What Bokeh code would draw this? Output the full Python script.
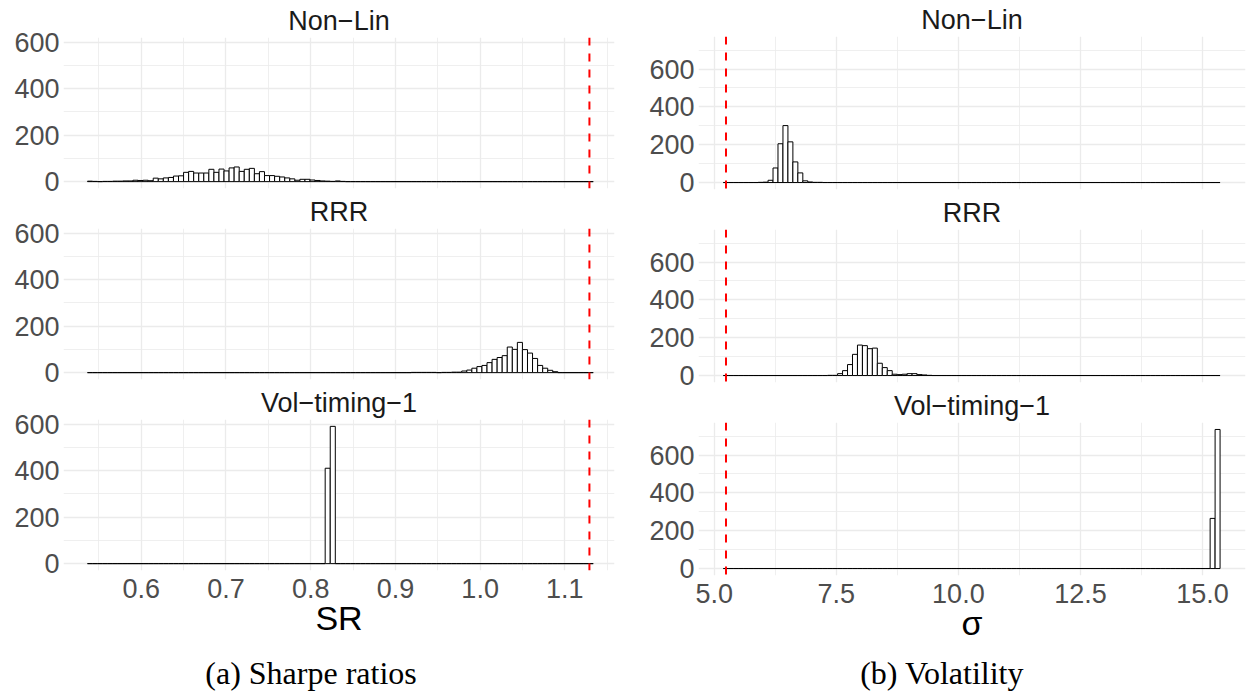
from bokeh.plotting import figure
from bokeh.models import Range1d, LinearAxis, Grid, FixedTicker, Span, Label, Title
from bokeh.layouts import row, column
from bokeh.embed import file_html
from bokeh.resources import INLINE

# ---------------- data ----------------
facets = ["Non\u2212Lin", "RRR", "Vol\u2212timing\u22121"]

# Sharpe ratio histograms (100 shared bins)
sr_bin_start = 0.5365
sr_bin_width = 0.00597
sr_counts_nonlin = [
    2, 1, 0, 1, 1, 2, 2, 3, 3, 6,
    5, 6, 4, 15, 12, 16, 18, 24, 25, 40,
    44, 37, 37, 37, 53, 40, 54, 46, 59, 63,
    44, 53, 57, 34, 43, 26, 26, 23, 20, 16,
    12, 6, 10, 10, 7, 5, 3, 2, 1, 3,
    1, 0, 0, 0, 0, 0, 0, 0, 0, 0,
    0, 0, 0, 0, 0, 0, 0, 0, 0, 0,
    0, 0, 0, 0, 0, 0, 0, 0, 0, 0,
    0, 0, 0, 0, 0, 0, 0, 0, 0, 0,
    0, 0, 0, 0, 0, 0, 0, 0, 0, 0,
]
sr_counts_rrr = [
    0, 0, 0, 0, 0, 0, 0, 0, 0, 0,
    0, 0, 0, 0, 0, 0, 0, 0, 0, 0,
    0, 0, 0, 0, 0, 0, 0, 0, 0, 0,
    0, 0, 0, 0, 0, 0, 0, 0, 0, 0,
    0, 0, 0, 0, 0, 0, 0, 0, 0, 0,
    0, 0, 0, 0, 0, 0, 0, 0, 0, 0,
    0, 0, 0, 0, 1, 1, 1, 1, 1, 0,
    1, 1, 2, 2, 7, 11, 19, 26, 31, 43,
    57, 65, 73, 110, 100, 130, 99, 84, 61, 31,
    19, 10, 4, 0, 0, 0, 0, 0, 0, 0,
]
sr_counts_vol = [
    0, 0, 0, 0, 0, 0, 0, 0, 0, 0,
    0, 0, 0, 0, 0, 0, 0, 0, 0, 0,
    0, 0, 0, 0, 0, 0, 0, 0, 0, 0,
    0, 0, 0, 0, 0, 0, 0, 0, 0, 0,
    0, 0, 0, 0, 0, 0, 0, 410, 590, 0,
    0, 0, 0, 0, 0, 0, 0, 0, 0, 0,
    0, 0, 0, 0, 0, 0, 0, 0, 0, 0,
    0, 0, 0, 0, 0, 0, 0, 0, 0, 0,
    0, 0, 0, 0, 0, 0, 0, 0, 0, 0,
    0, 0, 0, 0, 0, 0, 0, 0, 0, 0,
]
sr_reference = 1.129

# Volatility histograms (100 shared bins)
sig_bin_start = 5.186
sig_bin_width = 0.10174
sig_counts_nonlin = [
    0, 0, 0, 0, 0, 0, 0, 1, 2, 12,
    77, 205, 301, 215, 109, 51, 9, 3, 1, 1,
    0, 0, 0, 0, 0, 0, 0, 0, 0, 0,
    0, 0, 0, 0, 0, 0, 0, 0, 0, 0,
    0, 0, 0, 0, 0, 0, 0, 0, 0, 0,
    0, 0, 0, 0, 0, 0, 0, 0, 0, 0,
    0, 0, 0, 0, 0, 0, 0, 0, 0, 0,
    0, 0, 0, 0, 0, 0, 0, 0, 0, 0,
    0, 0, 0, 0, 0, 0, 0, 0, 0, 0,
    0, 0, 0, 0, 0, 0, 0, 0, 0, 0,
]
sig_counts_rrr = [
    0, 0, 0, 0, 0, 0, 0, 0, 0, 0,
    0, 0, 0, 0, 0, 0, 0, 0, 0, 0,
    0, 1, 1, 10, 26, 58, 112, 161, 158, 142,
    145, 65, 42, 26, 7, 5, 7, 10, 10, 5,
    3, 1, 0, 0, 0, 0, 0, 0, 0, 0,
    0, 0, 0, 0, 0, 0, 0, 0, 0, 0,
    0, 0, 0, 0, 0, 0, 0, 0, 0, 0,
    0, 0, 0, 0, 0, 0, 0, 0, 0, 0,
    0, 0, 0, 0, 0, 0, 0, 0, 0, 0,
    0, 0, 0, 0, 0, 0, 0, 0, 0, 0,
]
sig_counts_vol = [
    0, 0, 0, 0, 0, 0, 0, 0, 0, 0,
    0, 0, 0, 0, 0, 0, 0, 0, 0, 0,
    0, 0, 0, 0, 0, 0, 0, 0, 0, 0,
    0, 0, 0, 0, 0, 0, 0, 0, 0, 0,
    0, 0, 0, 0, 0, 0, 0, 0, 0, 0,
    0, 0, 0, 0, 0, 0, 0, 0, 0, 0,
    0, 0, 0, 0, 0, 0, 0, 0, 0, 0,
    0, 0, 0, 0, 0, 0, 0, 0, 0, 0,
    0, 0, 0, 0, 0, 0, 0, 0, 0, 0,
    0, 0, 0, 0, 0, 0, 0, 0, 265, 735,
]
sig_reference = 5.24

# axes
sr_ticks = [0.6, 0.7, 0.8, 0.9, 1.0, 1.1]
sr_tick_labels = ["0.6", "0.7", "0.8", "0.9", "1.0", "1.1"]
sr_minor = [0.55, 0.65, 0.75, 0.85, 0.95, 1.05, 1.15]
sig_ticks = [5.0, 7.5, 10.0, 12.5, 15.0]
sig_tick_labels = ["5.0", "7.5", "10.0", "12.5", "15.0"]
sig_minor = [6.25, 8.75, 11.25, 13.75]
count_ticks = [0, 200, 400, 600]
count_tick_labels = ["0", "200", "400", "600"]
sr_count_minor = [100, 300, 500]
sig_count_minor = [100, 300, 500, 700]

sr_panel_limits = (0.5082, 1.1586)
sr_count_limits = (-29.5, 619.5)
sig_panel_limits = (4.677, 15.881)
sig_count_limits = (-36.75, 771.75)

sr_xlabel = "SR"
sig_xlabel = "\u03c3"
captions = ["(a) Sharpe ratios", "(b) Volatility"]

# ---------------- style ----------------
FONT = "Liberation Sans"
GRID = "#EBEBEB"
AXIS_TXT = "#4D4D4D"
STRIP_TXT = "#1A1A1A"


def panel(width, height, b_top, b_bottom, b_left, b_right,
          limits, ylimits, start, bw, counts, ref, title,
          xticks, xminor, xlabels, yminor, xlabel, bottom):
    p = figure(width=width, height=height,
               x_range=Range1d(limits[0], limits[1]),
               y_range=Range1d(ylimits[0], ylimits[1]),
               x_axis_type=None, y_axis_type=None,
               toolbar_location=None, output_backend="svg",
               min_border_top=b_top, min_border_bottom=b_bottom,
               min_border_left=b_left, min_border_right=b_right)
    p.outline_line_color = None
    p.background_fill_color = "white"
    p.border_fill_color = "white"
    p.title = Title(text=title, align="center", vertical_align="top", standoff=0,
                    text_font=FONT, text_font_size="27px", text_font_style="normal",
                    text_color=STRIP_TXT)

    xg = Grid(dimension=0, ticker=FixedTicker(ticks=xticks, minor_ticks=xminor),
              grid_line_color=GRID, grid_line_width=1.3,
              minor_grid_line_color=GRID, minor_grid_line_width=0.8)
    yg = Grid(dimension=1, ticker=FixedTicker(ticks=count_ticks, minor_ticks=yminor),
              grid_line_color=GRID, grid_line_width=1.3,
              minor_grid_line_color=GRID, minor_grid_line_width=0.8)
    p.add_layout(xg)
    p.add_layout(yg)

    yaxis = LinearAxis(ticker=FixedTicker(ticks=count_ticks),
                       major_label_overrides={t: l for t, l in zip(count_ticks, count_tick_labels)},
                       major_label_text_font=FONT, major_label_text_font_size="27px",
                       major_label_text_color=AXIS_TXT, major_label_standoff=4,
                       major_tick_out=0, major_tick_in=0, minor_tick_out=0, minor_tick_in=0,
                       axis_line_color=None)
    p.add_layout(yaxis, "left")

    if bottom:
        xaxis = LinearAxis(ticker=FixedTicker(ticks=xticks),
                           major_label_overrides={t: l for t, l in zip(xticks, xlabels)},
                           major_label_text_font=FONT, major_label_text_font_size="27px",
                           major_label_text_color=AXIS_TXT, major_label_standoff=8,
                           major_tick_out=0, major_tick_in=0, minor_tick_out=0, minor_tick_in=0,
                           axis_line_color=None,
                           axis_label=xlabel, axis_label_text_font=FONT,
                           axis_label_text_font_size="34px", axis_label_text_font_style="normal",
                           axis_label_text_color="black", axis_label_standoff=-2)
        p.add_layout(xaxis, "below")

    lefts = [start + i * bw for i in range(len(counts))]
    rights = [start + (i + 1) * bw for i in range(len(counts))]
    p.quad(left=lefts, right=rights, bottom=[0] * len(counts), top=counts,
           fill_color="white", line_color="black", line_width=1)

    p.add_layout(Span(location=ref, dimension="height", line_color="#FF0000",
                      line_dash="8 8", line_width=2))
    return p


def caption(width, height, b_left, b_right, cx, cy, text):
    # x and y ranges expressed in canvas pixels (x from left, y from bottom)
    c = figure(width=width, height=height,
               x_range=Range1d(b_left, width - b_right), y_range=Range1d(0, height),
               x_axis_type=None, y_axis_type=None, toolbar_location=None,
               output_backend="svg", min_border_left=b_left, min_border_right=b_right,
               min_border_top=0, min_border_bottom=0)
    c.outline_line_color = None
    c.add_layout(Label(x=cx, y=cy, text=text, text_align="center", text_baseline="middle",
                       text_font="Liberation Serif", text_font_size="32px", text_color="black"))
    return c


# left column (Sharpe ratios): canvas 0..623
LW = 623
sr_sets = [sr_counts_nonlin, sr_counts_rrr, sr_counts_vol]
# (height, border_top, border_bottom)
sr_specs = [(196, 37, 8), (191, 32, 8), (258, 32, 75)]
left_figs = []
for i, (h, bt, bb) in enumerate(sr_specs):
    left_figs.append(panel(LW, h, bt, bb, 63, 9, sr_panel_limits, sr_count_limits,
                           sr_bin_start, sr_bin_width, sr_sets[i], sr_reference, facets[i],
                           sr_ticks, sr_minor, sr_tick_labels, sr_count_minor, sr_xlabel, i == 2))
left_figs.append(caption(LW, 50, 63, 9, 310.5, 22.5, captions[0]))

# right column (Volatility): canvas 623..1247
RW = 624
sig_sets = [sig_counts_nonlin, sig_counts_rrr, sig_counts_vol]
sig_specs = [(197, 36, 8), (193, 32, 8), (260, 32, 75)]
right_figs = []
for i, (h, bt, bb) in enumerate(sig_specs):
    right_figs.append(panel(RW, h, bt, bb, 75, 2, sig_panel_limits, sig_count_limits,
                            sig_bin_start, sig_bin_width, sig_sets[i], sig_reference, facets[i],
                            sig_ticks, sig_minor, sig_tick_labels, sig_count_minor, sig_xlabel, i == 2))
right_figs.append(caption(RW, 45, 75, 2, 318.6, 22.5, captions[1]))

layout = row(column(*left_figs, spacing=0), column(*right_figs, spacing=0), spacing=0)

open("out.html", "w").write(file_html(layout, INLINE))
